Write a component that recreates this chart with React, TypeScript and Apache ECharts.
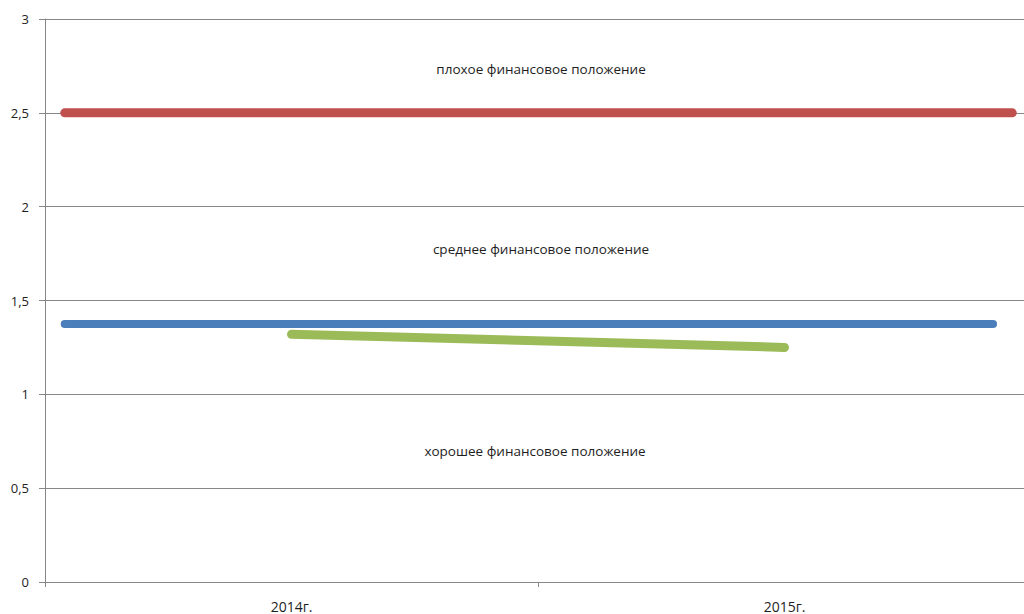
import React, { useEffect, useRef } from "react";
import * as echarts from "echarts";

// Years on the category axis
const years = ["2014г.", "2015г."];

// Score of the company per year
const scoreValues = [1.32, 1.25];

// Threshold lines drawn across the plot (x runs on a hidden 0..2 axis)
const upperBoundX = [0.04, 1.962];
const upperBoundY = [2.5, 2.5];
const lowerBoundX = [0.04, 1.923];
const lowerBoundY = [1.375, 1.375];

// Zone captions
const zoneLabels = [
  "плохое финансовое положение",
  "среднее финансовое положение",
  "хорошее финансовое положение",
];

const FONT = "'Open Sans', 'Noto Sans', sans-serif";
const AXIS_GREY = "#878787";
const TEXT = "#1e1e1e";

export default function App() {
  const ref = useRef<HTMLDivElement>(null);

  useEffect(() => {
    if (!ref.current) return;
    const chart = echarts.init(ref.current, null, { renderer: "svg" });
    const pairs = (xs: number[], ys: number[]) => xs.map((x, i) => [x, ys[i]]);
    const caption = (text: string, x: number, y: number) => ({
      type: "text",
      x,
      y,
      style: {
        text,
        fill: TEXT,
        font: `13.5px ${FONT}`,
        align: "center",
        verticalAlign: "middle",
      },
    });
    chart.setOption({
      animation: false,
      backgroundColor: "#ffffff",
      textStyle: { fontFamily: FONT },
      // the plot runs a little past the right edge of the visible frame
      grid: { left: 45, right: 9, top: 19, bottom: 32, containLabel: false },
      xAxis: [
        {
          type: "category",
          data: years,
          boundaryGap: true,
          axisLine: { lineStyle: { color: AXIS_GREY, width: 1 } },
          axisTick: { show: true, length: 5, lineStyle: { color: AXIS_GREY } },
          axisLabel: { color: TEXT, fontSize: 14, margin: 17, fontFamily: FONT },
          splitLine: { show: false },
        },
        { type: "value", min: 0, max: 2, show: false },
      ],
      yAxis: {
        type: "value",
        min: 0,
        max: 3,
        interval: 0.5,
        axisLine: { show: true, lineStyle: { color: AXIS_GREY, width: 1 } },
        axisTick: { show: true, length: 6, lineStyle: { color: AXIS_GREY } },
        axisLabel: {
          color: TEXT,
          fontSize: 13,
          margin: 16,
          fontFamily: FONT,
          formatter: (v: number) => String(v).replace(".", ","),
        },
        splitLine: { show: true, lineStyle: { color: AXIS_GREY, width: 1 } },
      },
      series: [
        {
          type: "line",
          xAxisIndex: 1,
          data: pairs(upperBoundX, upperBoundY),
          showSymbol: false,
          lineStyle: { color: "#C0504D", width: 9, cap: "round" },
          silent: true,
        },
        {
          type: "line",
          xAxisIndex: 1,
          data: pairs(lowerBoundX, lowerBoundY),
          showSymbol: false,
          lineStyle: { color: "#4A7EBB", width: 8, cap: "round" },
          silent: true,
        },
        {
          type: "line",
          xAxisIndex: 0,
          data: scoreValues,
          showSymbol: false,
          lineStyle: { color: "#9BBB59", width: 9, cap: "round" },
          silent: true,
        },
      ],
      graphic: [
        caption(zoneLabels[0], 541, 69),
        caption(zoneLabels[1], 541, 249),
        caption(zoneLabels[2], 535, 451),
      ],
    });
    return () => chart.dispose();
  }, []);

  return (
    <div
      style={{
        position: "fixed",
        left: 0,
        top: 0,
        width: 1024,
        height: 614,
        overflow: "hidden",
        background: "#ffffff",
      }}
    >
      <div ref={ref} style={{ width: 1040, height: 614 }} />
    </div>
  );
}
